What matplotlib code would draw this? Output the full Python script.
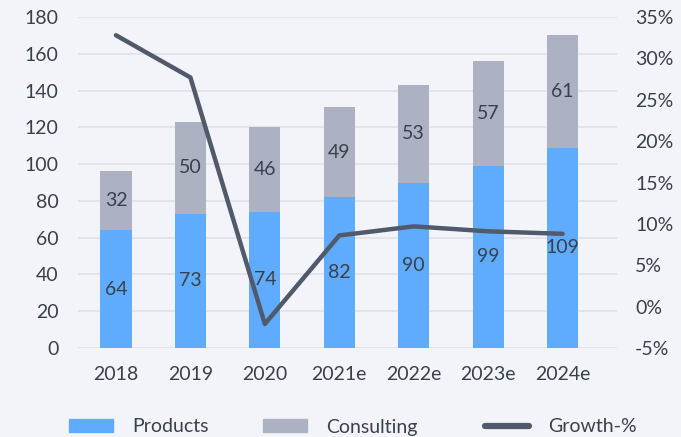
import matplotlib
matplotlib.use("Agg")
import matplotlib.pyplot as plt
from matplotlib.lines import Line2D
from matplotlib.patches import Patch
import numpy as np

years = ["2018", "2019", "2020", "2021e", "2022e", "2023e", "2024e"]
products = [64, 73, 74, 82, 90, 99, 109]
consulting = [32, 50, 46, 49, 53, 57, 61]
growth = [32.8, 27.7, -2.1, 8.6, 9.7, 9.1, 8.8]

BG = "#f3f4f9"
BLUE = "#5fabfe"
GREY = "#adb2c2"
LINE = "#505a6a"
TXT = "#3a404b"
GRID = "#dfe1e8"
FS = 14

plt.rcParams["font.family"] = ["Lato", "DejaVu Sans"]
plt.rcParams["font.size"] = FS

fig = plt.figure(figsize=(6.81, 4.37), dpi=100, facecolor=BG)
ax = fig.add_axes([0.1145, 0.2037, 0.7915, 0.7573])
ax.set_facecolor(BG)
x = np.arange(len(years))

# stacked bars
ax.bar(x, products, width=0.42, color=BLUE, zorder=2)
ax.bar(x, consulting, width=0.42, bottom=products, color=GREY, zorder=2)

for i in range(len(x)):
    ax.text(x[i], products[i] / 2, str(products[i]), ha="center", va="center",
            color=TXT, fontsize=FS, zorder=5)
    ax.text(x[i], products[i] + consulting[i] / 2, str(consulting[i]), ha="center",
            va="center", color=TXT, fontsize=FS, zorder=5)

ax.set_ylim(0, 180)
ax.set_yticks(range(0, 181, 20))
ax.set_xlim(-0.51, 6.73)
ax.set_xticks(x)
ax.set_xticklabels(years)
ax.grid(axis="y", color=GRID, linewidth=1.2, zorder=0)
ax.set_axisbelow(True)
for s in ax.spines.values():
    s.set_visible(False)
ax.tick_params(length=0, colors=TXT, labelsize=FS)
ax.tick_params(axis="y", pad=14)
ax.tick_params(axis="x", pad=13)

# growth line on the right axis
ax2 = ax.twinx()
ax2.plot(x, growth, color=LINE, linewidth=3.2, solid_capstyle="round", zorder=3)
ax2.set_ylim(-5, 35)
ax2.set_yticks(range(-5, 36, 5))
ax2.set_yticklabels([f"{v}%" for v in range(-5, 36, 5)])
for s in ax2.spines.values():
    s.set_visible(False)
ax2.tick_params(length=0, colors=TXT, labelsize=FS, pad=13)

# legend entries placed one by one
entries = [
    (Patch(color=BLUE), "Products", 69),
    (Patch(color=GREY), "Consulting", 263),
    (Line2D([0], [0], color=LINE, linewidth=4.5, solid_capstyle="round"), "Growth-%", 485),
]
for h, lab, px in entries:
    fig.legend([h], [lab], loc="center left", bbox_to_anchor=(px / 681, 1 - 427 / 437),
               frameon=False, fontsize=FS, handlelength=44 / 19.4, handleheight=0.62,
               handletextpad=1.0, labelcolor=TXT, borderpad=0.0, borderaxespad=0.0)

fig.savefig("out.png", dpi=100, facecolor=BG)
